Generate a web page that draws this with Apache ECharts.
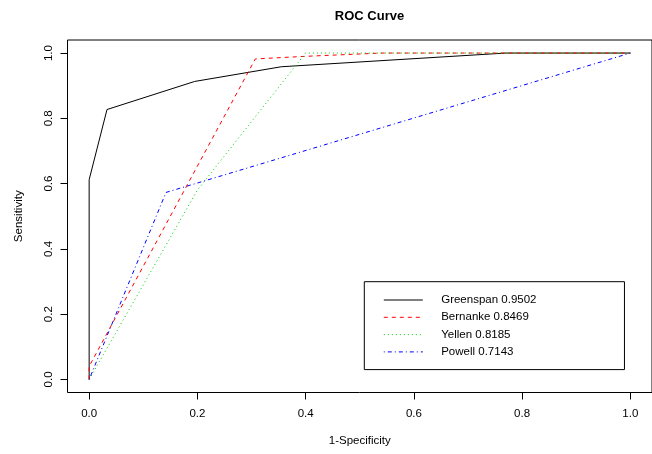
<!DOCTYPE html>
<html>
<head>
<meta charset="utf-8">
<script src="https://cdn.jsdelivr.net/npm/echarts@6/dist/echarts.min.js"></script>
<style>html,body{margin:0;padding:0;background:#fff}#c{width:652px;height:454px}</style>
</head>
<body>
<div id="c"></div>
<script>
const titleText = 'ROC Curve';
const xName = '1-Specificity';
const yName = 'Sensitivity';
const tickValues = [0, 0.2, 0.4, 0.6, 0.8, 1.0];
const seriesNames = ['Greenspan 0.9502', 'Bernanke 0.8469', 'Yellen 0.8185', 'Powell 0.7143'];
const greenspan = [[0, 0], [0, 0.612], [0.033, 0.827], [0.195, 0.913], [0.355, 0.958], [0.77, 1.0], [1, 1]];
const bernanke = [[0, 0], [0, 0.04], [0.307, 0.982], [0.40, 0.99], [0.54, 1.0], [1, 1]];
const yellen = [[0, 0], [0.2, 0.58], [0.40, 1.0], [1, 1]];
const powell = [[0, 0], [0.142, 0.573], [1, 1]];

const font = 'Liberation Sans, Arial, sans-serif';
const chart = echarts.init(document.getElementById('c'));
const styles = [
  {color: '#000000', type: 'solid'},
  {color: '#FF0000', type: [4, 4]},
  {color: '#00CD00', type: [1, 3]},
  {color: '#0000FF', type: [1, 3, 4, 3]}
];
const datas = [greenspan, bernanke, yellen, powell];
chart.setOption({
  animation: false,
  backgroundColor: '#fff',
  title: {
    text: titleText, left: 364.5, top: 5, textAlign: 'center',
    textStyle: {fontFamily: font, fontSize: 13, fontWeight: 'bold', color: '#000'}
  },
  grid: {
    left: 67.5, top: 40, width: 594, height: 352.5,
    show: true, borderColor: '#000', borderWidth: 1, backgroundColor: 'transparent'
  },
  xAxis: {
    type: 'value', min: -0.04, max: 1.04,
    name: xName, nameLocation: 'middle', nameGap: 42,
    nameTextStyle: {fontFamily: font, fontSize: 11.5, color: '#000'},
    axisLine: {show: false, onZero: false},
    splitLine: {show: false},
    axisTick: {show: true, inside: false, length: 7, customValues: tickValues, lineStyle: {color: '#000'}},
    axisLabel: {customValues: tickValues, margin: 15, fontFamily: font, fontSize: 11.5, color: '#000',
      formatter: v => v.toFixed(1)}
  },
  yAxis: {
    type: 'value', min: -0.04, max: 1.04,
    name: yName, nameLocation: 'middle', nameGap: 43, nameRotate: 90,
    nameTextStyle: {fontFamily: font, fontSize: 11.5, color: '#000'},
    axisLine: {show: false, onZero: false},
    splitLine: {show: false},
    axisTick: {show: true, inside: false, length: 7, customValues: tickValues, lineStyle: {color: '#000'}},
    axisLabel: {customValues: tickValues, margin: 13, rotate: 90, fontFamily: font, fontSize: 11.5, color: '#000',
      formatter: v => v.toFixed(1)}
  },
  legend: {
    orient: 'vertical', left: 364.3, top: 281.7,
    padding: [12.3, 88, 11.7, 19],
    itemWidth: 39, itemHeight: 11, itemGap: 5.3,
    borderColor: '#000', borderWidth: 1, borderRadius: 0, backgroundColor: '#fff',
    itemStyle: {opacity: 0},
    lineStyle: {width: 1},
    textStyle: {fontFamily: font, fontSize: 11.5, color: '#000', padding: [0, 0, 0, 13.4]},
    data: seriesNames
  },
  series: datas.map((d, i) => ({
    name: seriesNames[i], type: 'line', data: d, symbol: 'none', silent: true,
    lineStyle: {color: styles[i].color, width: 1, type: styles[i].type},
    itemStyle: {color: styles[i].color}
  }))
});
</script>
</body>
</html>
